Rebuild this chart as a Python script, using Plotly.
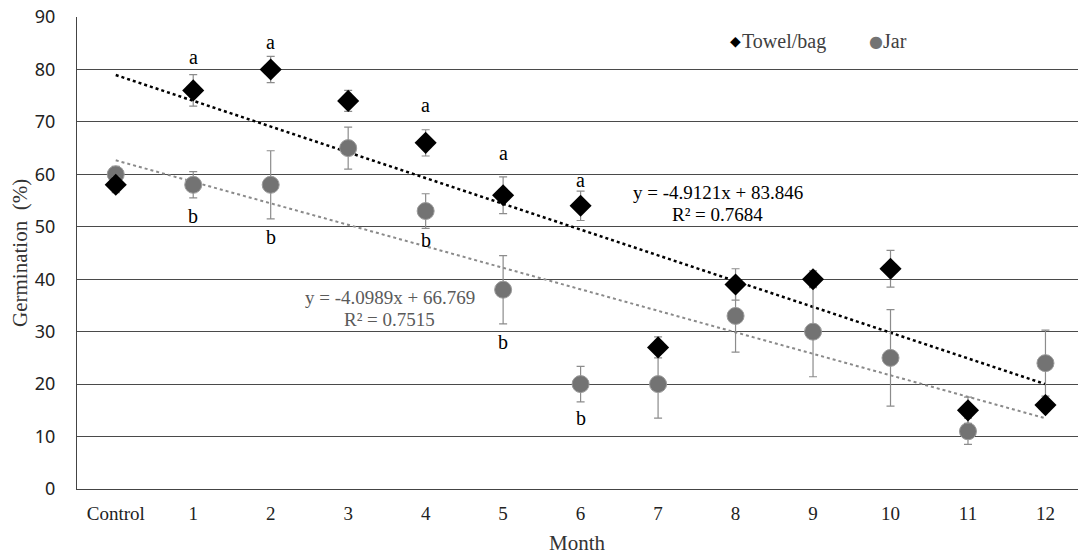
import plotly.graph_objects as go

categories = ["Control", "1", "2", "3", "4", "5", "6", "7", "8", "9", "10", "11", "12"]
towel = [58, 76, 80, 74, 66, 56, 54, 27, 39, 40, 42, 15, 16]
towel_err = [1.5, 3, 2.5, 2, 2.5, 3.5, 2.8, 2, 3, 1.6, 3.5, 2.5, 1.2]
jar = [60, 58, 58, 65, 53, 38, 20, 20, 33, 30, 25, 11, 24]
jar_err = [1.5, 2.5, 6.5, 4, 3.3, 6.5, 3.4, 6.5, 6.9, 8.6, 9.2, 2.5, 6.3]
towel_fit = (-4.9121, 83.846, 0.7684)
jar_fit = (-4.0989, 66.769, 0.7515)
series_names = ["Towel/bag", "Jar"]
# significance letters: month index -> (letter, label height in %)
letters_a = {1: ("a", 82.4), 2: ("a", 85.2), 4: ("a", 73.2), 5: ("a", 64.1), 6: ("a", 58.9)}
letters_b = {1: ("b", 52.1), 2: ("b", 48.1), 4: ("b", 47.5), 5: ("b", 28.0), 6: ("b", 13.5)}

xs = list(range(len(categories)))
serif = "Liberation Serif, Times New Roman, serif"
TOWEL_C = "black"
JAR_C = "#737373"

fig = go.Figure()

# trendlines from the reported equations (Excel x = index + 1)
def trend(fit):
    m, b, _ = fit
    tx = [xs[0], xs[-1]]
    return tx, [m * (x + 1) + b for x in tx]

tx, ty = trend(towel_fit)
fig.add_trace(go.Scatter(x=tx, y=ty, mode="lines", line=dict(color="black", width=2.5, dash="dot"),
                         showlegend=False, hoverinfo="skip"))
tx, ty = trend(jar_fit)
fig.add_trace(go.Scatter(x=tx, y=ty, mode="lines", line=dict(color="#8a8a8a", width=2, dash="dot"),
                         showlegend=False, hoverinfo="skip"))

fig.add_trace(go.Scatter(
    x=xs, y=jar, mode="markers", name=series_names[1], showlegend=False,
    marker=dict(symbol="circle", size=17, color=JAR_C, line=dict(color="#9a9a9a", width=1)),
    error_y=dict(type="data", array=jar_err, color="#8c8c8c", thickness=1.2, width=4),
))
fig.add_trace(go.Scatter(
    x=xs, y=towel, mode="markers", name=series_names[0], showlegend=False,
    marker=dict(symbol="diamond", size=17, color=TOWEL_C),
    error_y=dict(type="data", array=towel_err, color="#8c8c8c", thickness=1.2, width=4),
))

annotations = []
for letters in (letters_a, letters_b):
    for i, (t, ly) in letters.items():
        annotations.append(dict(x=i, y=ly, text=t, showarrow=False, yanchor="middle",
                                font=dict(family=serif, size=20, color="black"), yref="y", xref="x"))

def eq_lines(fit):
    m, b, r2 = fit
    return f"y = {m:.4f}x + {b:.3f}", f"R² = {r2:.4f}"

l1, l2 = eq_lines(towel_fit)
annotations.append(dict(x=7.77, y=56.6, text=l1, showarrow=False, font=dict(family=serif, size=19, color="black")))
annotations.append(dict(x=7.77, y=52.3, text=l2, showarrow=False, font=dict(family=serif, size=19, color="black")))
l1, l2 = eq_lines(jar_fit)
annotations.append(dict(x=3.535, y=36.6, text=l1, showarrow=False, font=dict(family=serif, size=19, color="#5a5a5a")))
annotations.append(dict(x=3.535, y=32.3, text=l2, showarrow=False, font=dict(family=serif, size=19, color="#5a5a5a")))

# legend (Excel style: small symbol right next to the label)
PW = 1001.0
def px(x):
    return (x - 77) / PW
LY = 0.949
annotations += [
    dict(x=px(735), y=LY, xref="paper", yref="paper", text="◆", showarrow=False, xanchor="center", yanchor="middle",
         font=dict(family="DejaVu Sans", size=14, color=TOWEL_C)),
    dict(x=px(742), y=LY, xref="paper", yref="paper", text=series_names[0], showarrow=False, xanchor="left",
         yanchor="middle", xshift=-2, font=dict(family=serif, size=20, color="#404040")),
    dict(x=px(876), y=LY, xref="paper", yref="paper", text="●", showarrow=False, xanchor="center", yanchor="middle",
         font=dict(family="DejaVu Sans", size=16, color=JAR_C)),
    dict(x=px(883), y=LY, xref="paper", yref="paper", text=series_names[1], showarrow=False, xanchor="left",
         yanchor="middle", xshift=-2, font=dict(family=serif, size=20, color="#404040")),
]

annotations.append(dict(x=-0.057, y=0.5, xref="paper", yref="paper", text="Germination  (%)", textangle=-90,
                        showarrow=False, xanchor="center", font=dict(family=serif, size=21, color="#333")))
annotations.append(dict(x=0.5, y=-0.1145, xref="paper", yref="paper", text="Month", showarrow=False,
                        yanchor="middle", font=dict(family=serif, size=21, color="#333")))

fig.update_layout(
    width=1078, height=554,
    margin=dict(l=77, r=0, t=17, b=65),
    plot_bgcolor="white", paper_bgcolor="white",
    annotations=annotations,
    showlegend=False,
    xaxis=dict(range=[-0.5, 12.42], tickvals=xs, ticktext=categories, showgrid=False, zeroline=False,
               showline=True, linecolor="#444", linewidth=1,
               tickfont=dict(family=serif, size=19, color="#222"), ticks="", ticklabelstandoff=7),
    yaxis=dict(range=[0, 90], dtick=10, showgrid=True, gridcolor="#4a4a4a", gridwidth=1, zeroline=False,
               showline=True, linecolor="#444", linewidth=1, ticks="",
               tickfont=dict(family="Noto Sans, sans-serif", size=18, color="#222"), ticklabelstandoff=17),
)

fig.write_html("out.html", config={"displayModeBar": False},
               post_script="document.body.style.margin='0';document.body.style.overflow='hidden';")
